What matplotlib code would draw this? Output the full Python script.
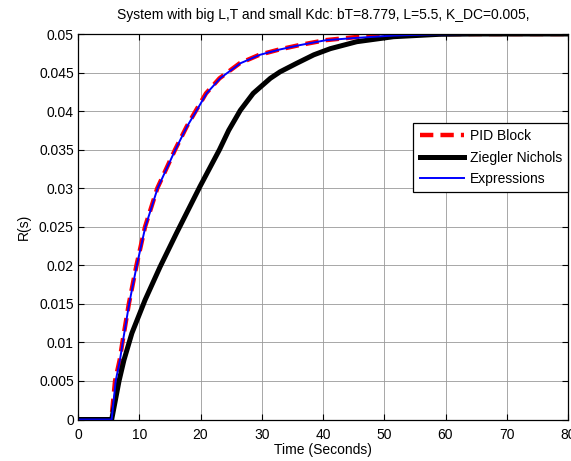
import numpy as np
import matplotlib
matplotlib.use("Agg")
import matplotlib.pyplot as plt

plt.rcParams['font.family'] = ['Liberation Sans', 'DejaVu Sans']
plt.rcParams['font.size'] = 10

# values
pid_t = [0, 5.45, 6.05, 6.8, 7.25, 8.3, 9.55, 10.95, 12.95, 15.85, 17.75, 19.2,
         20.9, 23.1, 26.4, 29.6, 32.9, 36.2, 40.4, 45.4, 51.4, 58, 65, 80]
pid_r = [0, 0, 0.005, 0.0077, 0.010, 0.015, 0.020, 0.025, 0.030, 0.035, 0.038, 0.040,
         0.0423, 0.04425, 0.0462, 0.0473, 0.0480, 0.04857, 0.0492, 0.0496, 0.0499, 0.05, 0.05, 0.05]

zn_t = [0, 5.5, 6.7, 7.5, 8.8, 10.95, 13.4, 16.1, 19.9, 23.1, 24.6, 26.5,
        28.6, 31.4, 33.0, 35.7, 38.5, 41.2, 45.5, 51.5, 59, 65, 80]
zn_r = [0, 0, 0.005, 0.0077, 0.0112, 0.0155, 0.0198, 0.0242, 0.0302, 0.035, 0.0375, 0.0401,
        0.0423, 0.04425, 0.0451, 0.0462, 0.0473, 0.0481, 0.0490, 0.04965, 0.04996, 0.05, 0.05]

expr_t = [0, 5.5, 6.15, 6.85, 7.3, 8.35, 9.6, 11.0, 13.0, 15.9, 17.8, 19.3,
          21.0, 23.2, 26.5, 29.7, 33.0, 36.3, 40.5, 45.5, 51.5, 58, 65, 80]
expr_r = [0, 0, 0.005, 0.0077, 0.010, 0.015, 0.020, 0.025, 0.030, 0.035, 0.038, 0.040,
          0.0423, 0.04425, 0.0462, 0.0473, 0.0480, 0.04857, 0.0492, 0.0495, 0.0498, 0.04995, 0.05, 0.05]

xticks = np.arange(0, 81, 10)
yticks = np.arange(0, 0.0501, 0.005)
ytick_labels = ['0', '0.005', '0.01', '0.015', '0.02', '0.025', '0.03', '0.035', '0.04', '0.045', '0.05']

fig = plt.figure(figsize=(5.71, 4.61), dpi=100)
ax = fig.add_axes([78/571, 41.5/461, 490/571, 385.5/461])

ax.plot(pid_t, pid_r, color='red', lw=3.2, dashes=(3.0, 1.6), label='PID Block')
ax.plot(zn_t, zn_r, color='black', lw=3.6, label='Ziegler Nichols')
ax.plot(expr_t, expr_r, color='blue', lw=1.4, label='Expressions')

ax.set_xlim(0, 80)
ax.set_ylim(0, 0.05)
ax.set_xticks(xticks)
ax.set_yticks(yticks)
ax.set_yticklabels(ytick_labels)
ax.grid(True, color='0.6', lw=0.6)
ax.tick_params(direction='in', top=True, right=True, length=4, width=0.8, labelsize=10)
ax.tick_params(axis='x', pad=6)
ax.tick_params(axis='y', pad=3)
for sp in ax.spines.values():
    sp.set_linewidth(0.9)

ax.set_title('System with big L,T and small Kdc: bT=8.779, L=5.5, K_DC=0.005,', fontsize=10, pad=11)
ax.set_xlabel('Time (Seconds)', labelpad=1)
ax.set_ylabel('R(s)', labelpad=6)

leg = ax.legend(loc='upper right', bbox_to_anchor=(1.0, 0.77), handlelength=3.2,
                handletextpad=0.4, labelspacing=0.55, borderpad=0.45, borderaxespad=0,
                fancybox=False, framealpha=1, edgecolor='black')
leg.get_frame().set_linewidth(0.9)

fig.savefig('out.png', dpi=100)
